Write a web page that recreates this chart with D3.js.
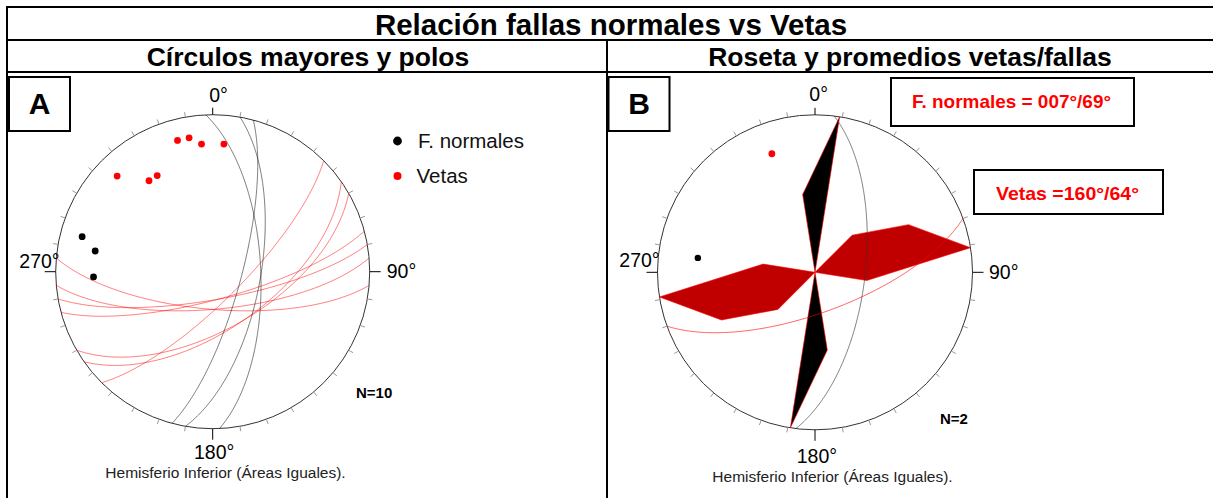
<!DOCTYPE html>
<html>
<head>
<meta charset="utf-8">
<script src="https://cdn.jsdelivr.net/npm/d3@7"></script>
<style>
  body { margin: 0; background: #fff; }
  svg { display: block; }
</style>
</head>
<body>
<svg id="chart" width="1213" height="498"></svg>
<script>
const fallasPlanes = [[105, 75], [100, 65], [87.5, 65]];
const vetasPlanes = [[165, 75.5], [170, 75.5], [175, 70.5], [185, 70.5], [135, 75], [145, 60], [150, 60]];

// mean planes drawn in panel B
const fallasMean = [97, 64];
const vetasMean = [160, 69];

// rose of strikes, 18 deg bins: [bin centre azimuth, count]
const roseFallas = [[351, 1], [9, 2]];
const roseVetas = [[45, 1], [63, 2], [81, 3], [99, 1]];

const cardinalLabels = ["0°", "90°", "180°", "270°"];
const legendLabels = ["F. normales", "Vetas"];
const meanLabels = ["F. normales = 007°/69°", "Vetas =160°/64°"];

const titleText = "Relación fallas normales vs Vetas";
const panelTitles = ["Círculos mayores y polos", "Roseta y promedios vetas/fallas"];
const hemisText = "Hemisferio Inferior (Áreas Iguales).";

const RED = "#ff0000";
const DARKRED = "#c00000";

const svg = d3.select("#chart");

// ---- table frame ----
const frame = svg.append("g").attr("stroke", "#000").attr("stroke-width", 2);
frame.append("line").attr("x1", 6).attr("x2", 1213).attr("y1", 7).attr("y2", 7);
frame.append("line").attr("x1", 6).attr("x2", 1213).attr("y1", 40).attr("y2", 40);
frame.append("line").attr("x1", 6).attr("x2", 1213).attr("y1", 72).attr("y2", 72);
frame.append("line").attr("x1", 7).attr("x2", 7).attr("y1", 6).attr("y2", 498);
frame.append("line").attr("x1", 607).attr("x2", 607).attr("y1", 40).attr("y2", 498);

svg.append("text")
    .attr("x", 611).attr("y", 35)
    .attr("text-anchor", "middle")
    .style("font-family", "Liberation Sans, Arial, sans-serif")
    .style("font-weight", "bold")
    .style("font-size", "29.5px")
    .text(titleText);

[308, 910].forEach((x, i) => {
    svg.append("text")
        .attr("x", x).attr("y", 65.5)
        .attr("text-anchor", "middle")
        .style("font-family", "Liberation Sans, Arial, sans-serif")
        .style("font-weight", "bold")
        .style("font-size", "26.5px")
        .text(panelTitles[i]);
});

// ---- helper: one stereonet ----
function drawNet(cfg) {
    const g = svg.append("g");
    const proj = d3.geoAzimuthalEqualArea()
        .rotate([0, -90])
        .scale(cfg.R / Math.SQRT2)
        .translate([cfg.cx, cfg.cy])
        .clipAngle(90)
        .precision(0.1);
    const path = d3.geoPath(proj);

    // primitive circle
    g.append("circle")
        .attr("cx", cfg.cx).attr("cy", cfg.cy).attr("r", cfg.R)
        .attr("fill", "none").attr("stroke", "#333").attr("stroke-width", 1);

    // ticks every 10 deg
    d3.range(0, 360, 10).forEach(a => {
        const major = a % 90 === 0;
        const len = major ? (a === 0 ? 7 : 11) : 5;
        const p0 = d3.pointRadial(a * Math.PI / 180, cfg.R);
        const p1 = d3.pointRadial(a * Math.PI / 180, cfg.R + len);
        g.append("line")
            .attr("x1", cfg.cx + p0[0]).attr("y1", cfg.cy + p0[1])
            .attr("x2", cfg.cx + p1[0]).attr("y2", cfg.cy + p1[1])
            .attr("stroke", major ? "#000" : "#999")
            .attr("stroke-width", 1);
    });

    // cardinal labels
    cfg.labelPos.forEach((p, i) => {
        g.append("text")
            .attr("x", cfg.cx + p[0]).attr("y", cfg.cy + p[1])
            .style("font-family", "Liberation Sans, Arial, sans-serif")
            .style("font-size", "19.5px")
            .text(cardinalLabels[i]);
    });

    g.append("text")
        .attr("x", cfg.cx + cfg.hemis[0]).attr("y", cfg.cy + cfg.hemis[1])
        .attr("text-anchor", "middle")
        .style("font-family", "Liberation Sans, Arial, sans-serif")
        .style("font-size", "15.5px")
        .attr("fill", "#222")
        .text(hemisText);

    g.append("text")
        .attr("x", cfg.nPos[0]).attr("y", cfg.nPos[1])
        .style("font-family", "Liberation Sans, Arial, sans-serif")
        .style("font-weight", "bold")
        .style("font-size", "15px")
        .text(cfg.nText);

    // panel letter box
    g.append("rect")
        .attr("x", cfg.box[0]).attr("y", 77).attr("width", 61).attr("height", 54)
        .attr("fill", "#fff").attr("stroke", "#000").attr("stroke-width", 2);
    g.append("text")
        .attr("x", cfg.box[0] + 30.5).attr("y", 114)
        .attr("text-anchor", "middle")
        .style("font-family", "Liberation Sans, Arial, sans-serif")
        .style("font-weight", "bold")
        .style("font-size", "30px")
        .text(cfg.letter);

    const greatCircle = (dd, dip) => ({
        type: "LineString",
        coordinates: d3.geoCircle().center([-dd, 90 - dip]).radius(90).precision(0.5)().coordinates[0]
    });
    const pole = (dd, dip) => proj([-dd, 90 - dip]);

    return {g, proj, path, greatCircle, pole};
}

// ---- panel A ----
const A = drawNet({
    cx: 212.7, cy: 271.7, R: 157, letter: "A", box: [9],
    labelPos: [[-3.5, -170], [174, 6], [-18.7, 187.6], [-193.4, -3.4]],
    hemis: [12.8, 206.6],
    nPos: [356, 397.5], nText: "N=10"
});

[[vetasPlanes, RED], [fallasPlanes, "#000"]].forEach(([planes, col]) => {
    A.g.selectAll(null)
        .data(planes)
        .join("path")
        .attr("d", d => A.path(A.greatCircle(d[0], d[1])))
        .attr("fill", "none")
        .attr("stroke", col)
        .attr("stroke-opacity", col === RED ? 0.7 : 0.7)
        .attr("stroke-width", 0.75);
});

[[vetasPlanes, RED], [fallasPlanes, "#000"]].forEach(([planes, col]) => {
    A.g.selectAll(null)
        .data(planes)
        .join("circle")
        .attr("cx", d => A.pole(d[0], d[1])[0])
        .attr("cy", d => A.pole(d[0], d[1])[1])
        .attr("r", 3.4)
        .attr("fill", col);
});

// legend
[["#000", 141, 4.4], [RED, 176, 4]].forEach(([col, y, r], i) => {
    svg.append("circle").attr("cx", 397.5).attr("cy", y).attr("r", r).attr("fill", col);
    svg.append("text")
        .attr("x", i === 0 ? 418 : 416.5).attr("y", y + 6.5)
        .style("font-family", "Liberation Sans, Arial, sans-serif")
        .style("font-size", "20.5px")
        .attr("fill", "#111")
        .text(legendLabels[i]);
});

// ---- panel B ----
const B = drawNet({
    cx: 815, cy: 272.3, R: 157.5, letter: "B", box: [608.5],
    labelPos: [[-5.7, -171.6], [174, 6.5], [-18.3, 191], [-195.7, -5]],
    hemis: [17.5, 209.7],
    nPos: [940, 423.5], nText: "N=2"
});

function drawRose(bins, fill) {
    const maxCount = d3.max(bins, d => d[1]);
    const r = d3.scaleLinear().domain([0, maxCount]).range([0, 157.5]);
    const line = d3.line();
    [0, 180].forEach(off => {
        const pts = [[0, 0]]
            .concat(bins.map(b => d3.pointRadial((b[0] + off) * Math.PI / 180, r(b[1]))))
            .concat([[0, 0]]);
        B.g.append("path")
            .attr("transform", `translate(${815},${272.3})`)
            .attr("d", line(pts) + "Z")
            .attr("fill", fill)
            .attr("stroke", RED)
            .attr("stroke-width", 0.6);
    });
}
drawRose(roseVetas, DARKRED);
drawRose(roseFallas, "#000");

[[vetasMean, RED], [fallasMean, "#333"]].forEach(([m, col]) => {
    B.g.append("path")
        .attr("d", B.path(B.greatCircle(m[0], m[1])))
        .attr("fill", "none")
        .attr("stroke", col)
        .attr("stroke-opacity", 0.8)
        .attr("stroke-width", 0.8);
});
[[vetasMean, RED, 3.4], [fallasMean, "#000", 3.2]].forEach(([m, col, rr]) => {
    const p = B.pole(m[0], m[1]);
    B.g.append("circle").attr("cx", p[0]).attr("cy", p[1]).attr("r", rr).attr("fill", col);
});

// mean value boxes
[[891, 78, 243, 48, 199, 108], [974, 170, 189, 44, 143, 200]].forEach((b, i) => {
    svg.append("rect")
        .attr("x", b[0]).attr("y", b[1]).attr("width", b[2]).attr("height", b[3])
        .attr("fill", "#fff").attr("stroke", "#000").attr("stroke-width", 2);
    svg.append("text")
        .attr("x", b[0] + b[2] / 2 - 1).attr("y", b[5])
        .attr("text-anchor", "middle")
        .attr("textLength", b[4])
        .attr("lengthAdjust", "spacingAndGlyphs")
        .style("font-family", "Liberation Sans, Arial, sans-serif")
        .style("font-weight", "bold")
        .style("font-size", "18.5px")
        .attr("fill", RED)
        .text(meanLabels[i]);
});
</script>
</body>
</html>
